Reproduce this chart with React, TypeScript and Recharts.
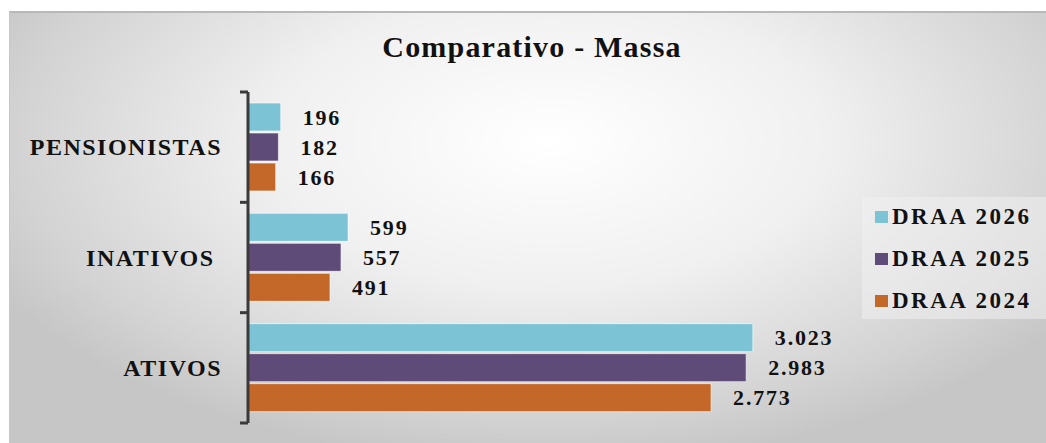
import React from 'react';
import { BarChart, Bar, XAxis, YAxis, LabelList } from 'recharts';

const categories = ['PENSIONISTAS', 'INATIVOS ', 'ATIVOS'];
const draa2026 = [196, 599, 3023];
const draa2025 = [182, 557, 2983];
const draa2024 = [166, 491, 2773];

const seriesNames = ['DRAA 2026', 'DRAA 2025', 'DRAA 2024'];
const COLORS = ['#7bc3d5', '#5f4b78', '#c4682a'];

const W = 1046;
const H = 443;
const TOP = 92;
const BOTTOM = 20;
const BAND = (H - TOP - BOTTOM) / categories.length;
const FONT = '"Liberation Serif", "Times New Roman", serif';

const data = categories.map((name, i) => ({
  name,
  d2026: draa2026[i],
  d2025: draa2025[i],
  d2024: draa2024[i],
}));

const fmt = (v: any) => String(Number(v)).replace(/\B(?=(\d{3})+(?!\d))/g, '.');

const CategoryTick = (props: any) => {
  const { x, y, payload, index } = props;
  return (
    <g>
      <line x1={x - 8} x2={x} y1={y - BAND / 2} y2={y - BAND / 2} stroke="#3a3a3a" strokeWidth={3} />
      {index === categories.length - 1 && (
        <line x1={x - 8} x2={x} y1={y + BAND / 2} y2={y + BAND / 2} stroke="#3a3a3a" strokeWidth={3} />
      )}
      <text
        x={x - 26}
        y={y}
        dy={8}
        textAnchor="end"
        fontFamily={FONT}
        fontWeight="bold"
        fontSize={24}
        letterSpacing={1.5}
        fill="#111"
        style={{ whiteSpace: 'pre' }}
      >
        {payload.value}
      </text>
    </g>
  );
};

const LegendBox = () => (
  <div
    style={{
      position: 'absolute',
      left: 862,
      top: 197,
      width: 184,
      height: 122,
      background: 'rgba(240,240,240,0.55)',
      fontFamily: FONT,
      fontWeight: 'bold',
      fontSize: 23,
      letterSpacing: 2.5,
      color: '#111',
    }}
  >
    {seriesNames.map((s, i) => (
      <div key={s} style={{ position: 'absolute', left: 13, top: 7 + i * 42, display: 'flex', alignItems: 'center', height: 26 }}>
        <span style={{ width: 13, height: 12, background: COLORS[i], display: 'inline-block', marginRight: 4 }} />
        <span>{s}</span>
      </div>
    ))}
  </div>
);

export default function App() {
  return (
    <div style={{ position: 'absolute', left: 0, top: 0, width: W, height: H, background: '#fff' }}>
      <div
        style={{
          position: 'absolute',
          left: 9,
          top: 11,
          right: 0,
          bottom: 0,
          borderTop: '2px solid #b8b8b8',
          borderLeft: '1px solid #c8c8c8',
          background: 'radial-gradient(ellipse 60% 75% at 52% 30%, #ffffff 0%, #f0f0f0 45%, #d3d3d3 85%, #c6c6c6 100%)',
        }}
      />
      <div
        style={{
          position: 'absolute',
          left: 0,
          width: 1064,
          top: 30,
          textAlign: 'center',
          fontFamily: FONT,
          fontWeight: 'bold',
          fontSize: 30,
          letterSpacing: 1.2,
          color: '#111',
          lineHeight: 'normal',
        }}
      >
        Comparativo - Massa
      </div>
      <div style={{ position: 'absolute', left: 0, top: 0 }}>
        <BarChart
          width={W}
          height={H}
          data={data}
          layout="vertical"
          margin={{ top: TOP, right: 130, bottom: BOTTOM, left: 0 }}
          barSize={28}
          barGap={2}
        >
          <XAxis type="number" domain={[0, 4000]} hide />
          <YAxis
            type="category"
            dataKey="name"
            width={248}
            axisLine={{ stroke: '#3a3a3a', strokeWidth: 3 }}
            tickLine={false}
            tickSize={0}
            tickMargin={0}
            tick={<CategoryTick />}
            interval={0}
          />
          {['d2026', 'd2025', 'd2024'].map((k, i) => (
            <Bar
              key={k}
              dataKey={k}
              name={seriesNames[i]}
              fill={COLORS[i]}
              stroke="rgba(255,255,255,0.6)"
              strokeWidth={1}
              isAnimationActive={false}
            >
              <LabelList
                dataKey={k}
                position="right"
                offset={22}
                formatter={fmt}
                fontFamily={FONT}
                fontWeight="bold"
                fontSize={22}
                letterSpacing={1.8}
                fill="#111"
              />
            </Bar>
          ))}
        </BarChart>
      </div>
      <LegendBox />
    </div>
  );
}
